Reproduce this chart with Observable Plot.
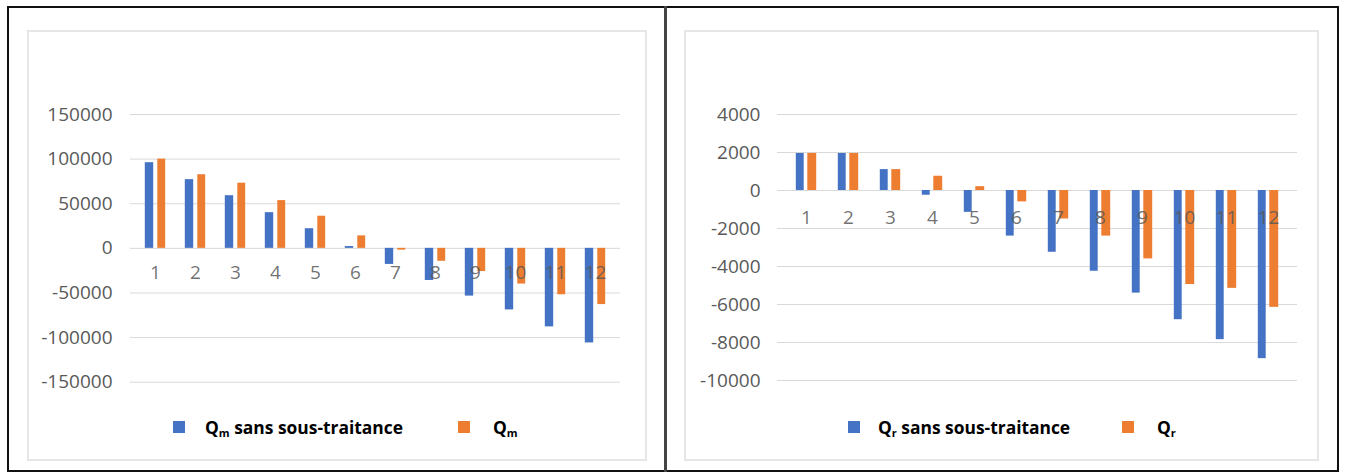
<!DOCTYPE html>
<html><head><meta charset="utf-8">
<script src="https://cdn.jsdelivr.net/npm/d3@7"></script>
<script src="https://cdn.jsdelivr.net/npm/@observablehq/plot@0.6"></script>
<style>
body{margin:0;background:#fff;}
#root{position:relative;width:1346px;height:472px;overflow:hidden;font-family:"Open Sans",sans-serif;}
.frame{position:absolute;left:7px;top:6px;width:1332px;height:466px;border:2px solid #111;box-sizing:border-box;}
.divider{position:absolute;left:664px;top:6px;width:3px;height:466px;background:#444;}
.panel{position:absolute;top:30px;height:431px;border:2px solid #e6e6e6;box-sizing:border-box;}
.chart{position:absolute;top:30px;}
.sw{position:absolute;top:421px;width:12px;height:12px;}
.lab{position:absolute;top:415px;white-space:nowrap;line-height:24px;font-weight:bold;font-size:17.4px;color:#000;}
.lab sub{font-size:11px;vertical-align:-3px;}
</style>
</head><body>
<div id="root">
  <div class="frame"></div>
  <div class="divider"></div>
  <div class="panel" style="left:27px;width:620px;"></div>
  <div class="panel" style="left:684px;width:635px;"></div>
  <div class="chart" id="left" style="left:27px;"></div>
  <div class="chart" id="right" style="left:684px;"></div>
  <div class="sw" style="left:173px;background:#4472C4;"></div>
  <div class="lab" style="left:205px;">Q<sub>m</sub> sans sous-traitance</div>
  <div class="sw" style="left:458px;background:#ED7D31;"></div>
  <div class="lab" style="left:493px;">Q<sub>m</sub></div>
  <div class="sw" style="left:848px;background:#4472C4;"></div>
  <div class="lab" style="left:878px;">Q<sub>r</sub> sans sous-traitance</div>
  <div class="sw" style="left:1122px;background:#ED7D31;"></div>
  <div class="lab" style="left:1157px;">Q<sub>r</sub></div>
</div>
<script>
const categories = ["1","2","3","4","5","6","7","8","9","10","11","12"];
const qmSansSousTraitance = [96000, 77000, 59000, 40000, 22000, 2000, -18000, -36000, -53500, -69000, -88000, -106000];
const qm = [100000, 82500, 73000, 53500, 36000, 14000, -2000, -14500, -26000, -40000, -52000, -63000];
const qrSansSousTraitance = [1950, 1950, 1100, -250, -1150, -2400, -3250, -4250, -5400, -6800, -7850, -8850];
const qr = [1950, 1950, 1100, 750, 200, -600, -1500, -2400, -3600, -4950, -5150, -6150];
const leftTicks = [-150000, -100000, -50000, 0, 50000, 100000, 150000];
const rightTicks = [-10000, -8000, -6000, -4000, -2000, 0, 2000, 4000];
const BLUE = "#4472C4", ORANGE = "#ED7D31", GRID = "#d9d9d9", TXT = "#595959";

function makeChart(o) {
  const rowsA = categories.map((c, i) => ({cat: c, value: o.a[i]}));
  const rowsB = categories.map((c, i) => ({cat: c, value: o.b[i]}));
  const catRows = categories.map(c => ({cat: c, base: 0}));
  return Plot.plot({
    width: o.width, height: o.height,
    marginLeft: o.mL, marginRight: o.mR, marginTop: o.mT, marginBottom: o.mB,
    style: {fontFamily: "Open Sans, sans-serif", background: "transparent", overflow: "visible"},
    x: {type: "band", domain: categories, paddingInner: 0, paddingOuter: o.padOuter, axis: null},
    y: {domain: o.domain, axis: null},
    marks: [
      Plot.ruleY(o.ticks, {stroke: GRID, strokeWidth: 1}),
      Plot.axisY(o.ticks, {tickSize: 0, tickPadding: o.tickPad, tickFormat: d => String(d), fill: TXT, fontSize: 19, label: null}),
      Plot.barY(rowsA, {x: "cat", y: "value", fill: BLUE, insetLeft: o.ia[0], insetRight: o.ia[1]}),
      Plot.barY(rowsB, {x: "cat", y: "value", fill: ORANGE, insetLeft: o.ib[0], insetRight: o.ib[1]}),
      Plot.text(catRows, {x: "cat", y: "base", text: "cat", dy: o.labelDy, fill: TXT, fillOpacity: 0.85, fontSize: 19})
    ]
  });
}

document.getElementById("left").append(makeChart({
  a: qmSansSousTraitance, b: qm, domain: [-150000, 150000], ticks: leftTicks,
  width: 620, height: 380, mL: 103, mR: 27, mT: 84, mB: 28.3,
  padOuter: 0.06, ia: [9.8, 21.8], ib: [22.3, 9.8], tickPad: 18, labelDy: 25
}));
document.getElementById("right").append(makeChart({
  a: qrSansSousTraitance, b: qr, domain: [-10000, 4000], ticks: rightTicks,
  width: 635, height: 380, mL: 93, mR: 22, mT: 84, mB: 30,
  padOuter: 0.1, ia: [10.8, 23.3], ib: [22.3, 10.8], tickPad: 17, labelDy: 27
}));
</script>
</body></html>
